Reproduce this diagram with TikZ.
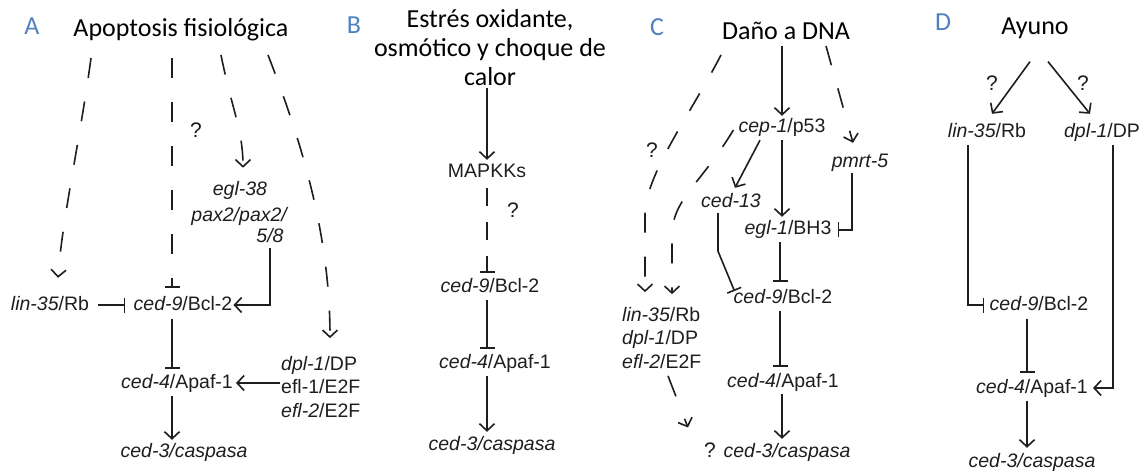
\documentclass[tikz,border=0pt]{standalone}
\usepackage{fontspec}
\setmainfont{Liberation Sans}
\newfontfamily\titlefont{Carlito}
\usetikzlibrary{arrows.meta,calc}
\definecolor{panelblue}{RGB}{79,129,189}
\definecolor{ink}{RGB}{30,30,30}
\begin{document}
\begin{tikzpicture}[x=1pt,y=-1pt,
  gene/.style={font=\fontsize{19.5}{23}\selectfont, inner sep=1pt, text=ink, text height=14pt, text depth=4pt},
  genes/.style={font=\fontsize{19.5}{23.5}\selectfont, inner sep=1pt, text=ink, align=left},
  ttl/.style={font=\titlefont\fontsize{26}{29}\selectfont, align=center, inner sep=0pt},
  plabel/.style={font=\titlefont\fontsize{26}{29}\selectfont, text=panelblue, inner sep=0pt},
  qm/.style={font=\fontsize{21}{23}\selectfont, text=ink, inner sep=0pt},
  act/.style={draw=ink, line width=1.6pt, -{Straight Barb[length=7pt,width=15pt,line width=1.6pt]}},
  inh/.style={draw=ink, line width=1.6pt, -{Bar[width=15pt,line width=1.6pt]}},
  dsh/.style={dash pattern=on 20pt off 24pt}
]
\useasboundingbox (0,0) rectangle (1146,473);
\fill[white] (0,0) rectangle (1146,473);

% ---------------- Panel A ----------------
\node[plabel] (la) at (32,26) {A};
\node[ttl] (ta) at (181,30) {Apoptosis fisiológica};
\node[qm] (qA) at (196,130) {?};
\node[gene] (linA) at (50,305) {\textit{lin-35}/Rb};
\node[gene] (ced9A) at (183,305) {\textit{ced-9}/Bcl-2};
\node[gene] (ced4A) at (177,383) {\textit{ced-4}/Apaf-1};
\node[gene] (ced3A) at (184,452) {\textit{ced-3/caspasa}};
\node[genes, align=center, font=\fontsize{19.5}{26}\selectfont] (eglA) at (240,203) {\textit{egl-38}\\\textit{pax2/pax2/}};
\node[gene] (e58) at (270,238) {\textit{5/8}};
\node[genes, anchor=west] (dplA) at (280,387) {\textit{dpl-1}/DP\\efl-1/E2F\\\textit{efl-2}/E2F};
\coordinate (a1) at (91,58);
\coordinate (a2) at (172,58);
\coordinate (a3) at (221,55);
\coordinate (a4) at (268,55);

\draw[act,dsh] (a1) .. controls (80,140) and (62,220) .. ($(linA.north)+(8,-17)$);
\draw[inh,dsh] (a2) -- ($(ced9A.north)+(-11,-7)$);
\draw[act,dsh] (a3) .. controls (232,110) and (243,130) .. ($(eglA.north)+(3,-12)$);
\draw[act,dsh] (a4) .. controls (305,150) and (330,240) .. ($(dplA.north west)+(50,-17)$);
\draw[act] (e58.south) |- (ced9A.east);
\draw[inh, shorten <=8pt, shorten >=7pt] (linA.east) -- (ced9A.west);
\draw[inh] ($(ced9A.south)+(-11,4)$) -- ($(ced4A.north)+(-5,-4)$);
\draw[act] (dplA.west |- ced4A) -- ($(ced4A.east)+(2,0)$);
\draw[act] ($(ced4A.south)+(-5,3)$) -- ($(ced3A.north)+(-12,-2)$);

% ---------------- Panel B ----------------
\node[plabel] (lb) at (354,25) {B};
\node[ttl] (tb) at (490,48) {Estrés oxidante,\\osmótico y choque de\\calor};
\node[gene] (mapk) at (487,173) {MAPKKs};
\node[qm] (qB) at (513,210) {?};
\node[gene] (ced9B) at (490,287) {\textit{ced-9}/Bcl-2};
\node[gene] (ced4B) at (495,363) {\textit{ced-4}/Apaf-1};
\node[gene] (ced3B) at (492,445) {\textit{ced-3/caspasa}};
\draw[act] ($(tb.south -| mapk.north)+(0,2)$) -- ($(mapk.north)+(0,-3)$);
\draw[inh, dash pattern=on 18pt off 16pt] ($(mapk.south)+(0,5)$) -- ($(ced9B.north)+(-3,-4)$);
\draw[inh] ($(ced9B.south)+(-3,3)$) -- ($(ced4B.north)+(-8,-4)$);
\draw[act] ($(ced4B.south)+(-8,3)$) -- ($(ced3B.north)+(-5,-3)$);

% ---------------- Panel C ----------------
\node[plabel] (lc) at (657,27) {C};
\node[ttl] (tc) at (786,31) {Daño a DNA};
\node[gene] (cep1) at (782,128) {\textit{cep-1}/p53};
\node[gene] (pmrt) at (860,163) {\textit{pmrt-5}};
\node[gene] (ced13) at (731,203) {\textit{ced-13}};
\node[gene] (egl1) at (788,230) {\textit{egl-1}/BH3};
\node[gene] (ced9C) at (783,298) {\textit{ced-9}/Bcl-2};
\node[gene] (ced4C) at (783,382) {\textit{ced-4}/Apaf-1};
\node[gene] (ced3C) at (787,452) {\textit{ced-3/caspasa}};
\node[qm] (qC1) at (652,150) {?};
\node[qm] (qC2) at (710,450) {?};
\node[genes, anchor=west] (linC) at (621,338) {\textit{lin-35}/Rb\\\textit{dpl-1}/DP\\\textit{efl-2}/E2F};
\coordinate (c1) at (721,55);

\draw[act] ($(tc.south -| cep1.north)+(0,6)$) -- ($(cep1.north)+(0,-2)$);
\draw[act] ($(cep1.south)+(0,2)$) -- ($(egl1.north)+(-6,-3)$);
\draw[act] ($(cep1.south)+(-22,2)$) -- ($(ced13.north)+(4,-5)$);
\draw[act, dash pattern=on 20pt off 24pt] ($(tc.south)+(40,6)$) -- ($(pmrt.north)+(-7,-10)$);
\draw[inh] ($(pmrt.south)+(-8,0)$) |- ($(egl1.east)+(5,0)$);
\draw[inh] ($(egl1.south)+(-8,2)$) -- ($(ced9C.north)+(-3,-6)$);
\draw[inh] ($(ced13.south)+(-13,0)$) -- ++(0,38) -- ($(ced9C.west)+(2,-7)$);
\draw[inh] ($(ced9C.south)+(-3,3)$) -- ($(ced4C.north)+(-3,-5)$);
\draw[act] ($(ced4C.south)+(-1,2)$) -- ($(ced3C.north)+(-5,-3)$);
\draw[act,dsh] (c1) .. controls (690,115) and (645,175) .. (645,215) -- ($(linC.north west)+(24,-14)$);
\draw[act,dsh] ($(cep1.west)+(-4,2)$) .. controls (700,185) and (672,200) .. (672,235) -- ($(linC.north west)+(51,-12)$);
\draw[act, dash pattern=on 22pt off 24pt] ($(linC.south west)+(47,6)$) -- ($(qC2.north west)+(-16,-15)$);

% ---------------- Panel D ----------------
\node[plabel] (ld) at (943,22) {D};
\node[ttl] (td) at (1035,28) {Ayuno};
\node[qm] (qD1) at (992,83) {?};
\node[qm] (qD2) at (1083,83) {?};
\node[gene] (linD) at (987,133) {\textit{lin-35}/Rb};
\node[gene] (dplD) at (1102,133) {\textit{dpl-1}/DP};
\node[gene] (ced9D) at (1039,305) {\textit{ced-9}/Bcl-2};
\node[gene] (ced4D) at (1032,388) {\textit{ced-4}/Apaf-1};
\node[gene] (ced3D) at (1032,462) {\textit{ced-3/caspasa}};
\draw[act] ($(td.south)+(-5,23)$) -- ($(linD.north)+(5,-9)$);
\draw[act] ($(td.south)+(13,23)$) -- ($(dplD.north)+(-12,-9)$);
\draw[inh] ($(linD.south)+(-19,2)$) |- ($(ced9D.west)+(-4,0)$);
\draw[act] ($(dplD.south)+(11,2)$) |- ($(ced4D.east)+(4,0)$);
\draw[inh] ($(ced9D.south)+(-12,4)$) -- ($(ced4D.north)+(-5,-5)$);
\draw[act] ($(ced4D.south)+(-5,3)$) -- ($(ced3D.north)+(-5,-4)$);
\end{tikzpicture}
\end{document}
